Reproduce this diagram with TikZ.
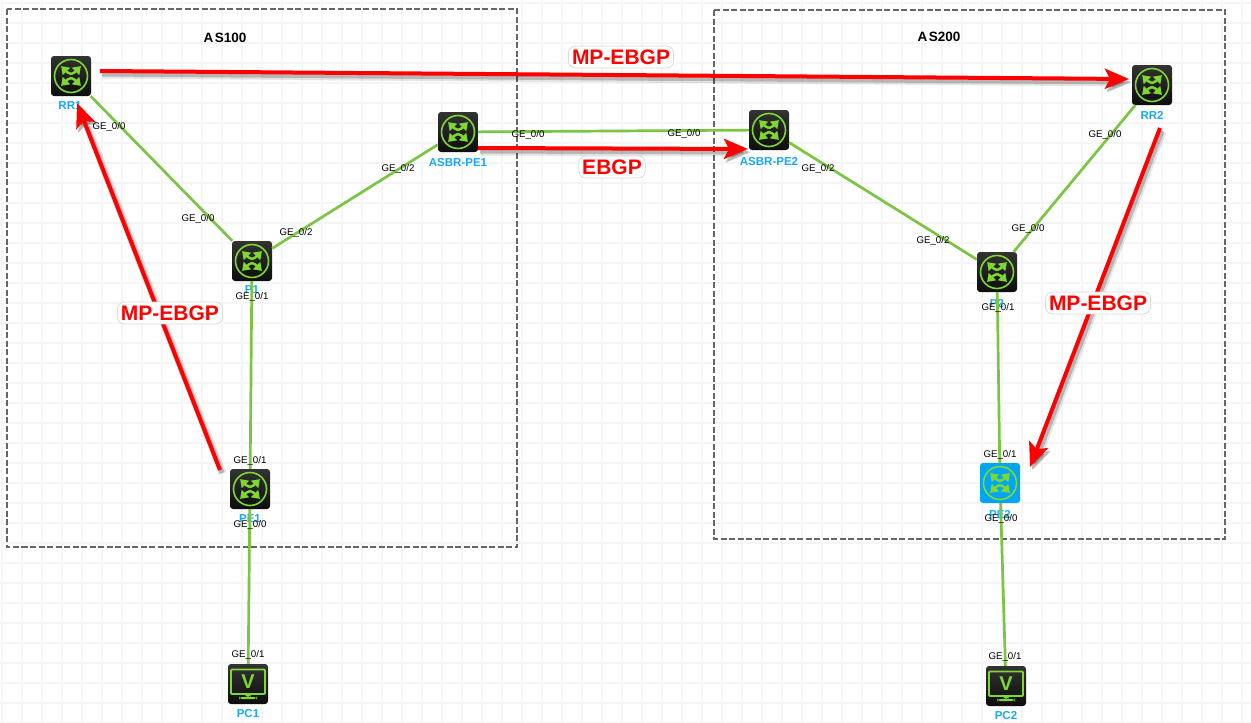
\documentclass[tikz,border=0pt]{standalone}
\usepackage{fontspec}
\setmainfont{Liberation Sans}
\usetikzlibrary{arrows.meta}
\definecolor{linkgreen}{HTML}{7CC443}
\definecolor{icongreen}{HTML}{7FD832}
\definecolor{namecyan}{HTML}{1AA7F5}
\definecolor{peblue}{HTML}{00A6F4}
\tikzset{
  devicebox/.style={minimum size=40pt,inner sep=0pt,rounded corners=3pt,top color=black!80,bottom color=black!95},
  routericon/.style={devicebox,path picture={
    \draw[icongreen,line width=1.6pt] (path picture bounding box.center) circle (16.5pt);
    \foreach \a/\s in {45/90,135/90,225/270,315/270}{
      \draw[icongreen,line width=2.5pt,-{Triangle[length=7.5pt,width=10pt]}]
        ([shift={(\s:2pt)}]path picture bounding box.center) .. controls ([shift={(\a:4pt)}]path picture bounding box.center) and ([shift={(\a:6pt)}]path picture bounding box.center) .. ([shift={(\a:14pt)}]path picture bounding box.center);
    }}},
  routerblue/.style={routericon,top color=peblue,bottom color=peblue},
  pcicon/.style={devicebox,path picture={
    \draw[icongreen,line width=1.8pt,rounded corners=1pt] ([shift={(-17pt,14.5pt)}]path picture bounding box.center) rectangle ([shift={(17pt,-10pt)}]path picture bounding box.center);
    \fill[icongreen] ([shift={(-2.5pt,-10pt)}]path picture bounding box.center) rectangle ([shift={(2.5pt,-13pt)}]path picture bounding box.center);
    \fill[icongreen] ([shift={(-9pt,-13pt)}]path picture bounding box.center) rectangle ([shift={(9pt,-15pt)}]path picture bounding box.center);
    \node[icongreen,font=\bfseries\fontsize{20}{20}\selectfont,inner sep=0pt] at ([yshift=2.5pt]path picture bounding box.center) {V};
    }},
  devname/.style={text=namecyan,font=\bfseries\fontsize{11.5}{12}\selectfont,inner sep=0pt,yshift=-1pt},
  portname/.style={font=\fontsize{9.7}{10}\selectfont,inner sep=0pt,yshift=-1.5pt},
  asbox/.style={draw=black!60,line width=1.4pt,dash pattern=on 6pt off 2.5pt},
  astitle/.style={font=\bfseries\fontsize{13.5}{14}\selectfont,inner sep=0pt,yshift=-1pt},
  link/.style={draw=linkgreen,line width=2.7pt},
  bgparrow/.style={red,line width=4pt,-{Stealth[length=24pt,width=20pt,inset=5pt]},
    preaction={draw=black,opacity=.1,line width=8pt,transform canvas={shift={(2.5pt,-3.5pt)}}},
    preaction={draw=black,opacity=.2,line width=5pt,transform canvas={shift={(2pt,-3pt)}}}},
  bgpname/.style={text=red,fill=white,draw=black!14,line width=.8pt,rounded corners=7pt,inner xsep=3.5pt,inner ysep=3.5pt,font=\bfseries\fontsize{21}{22}\selectfont},
}
\begin{document}
\begin{tikzpicture}[x=1pt,y=-1pt]
\useasboundingbox (0,0) rectangle (1251,723);
\foreach \x in {2,22,...,1250} \draw[black!4,line width=1.2pt] (\x,0) -- (\x,723);
\foreach \y in {3,23,...,723} \draw[black!4,line width=1.2pt] (0,\y) -- (1251,\y);
\draw[asbox] (7,9) rectangle (517,547);
\draw[asbox] (714,10) rectangle (1225,539);
\node[astitle] (as100) at (225,37) {A\kern1.5pt S100};
\node[astitle] (as200) at (939,36) {A\kern1.5pt S200};
% devices
\node[routericon] (rr1) at (71,76) {};
\node[routericon] (rr2) at (1152,85) {};
\node[routericon] (asbr1) at (458,132) {};
\node[routericon] (asbr2) at (769,130) {};
\node[routericon] (p1) at (252,261) {};
\node[routericon] (p2) at (997,272) {};
\node[routericon] (pe1) at (250,489) {};
\node[routerblue] (pe2) at (1000,483) {};
\node[pcicon] (pc1) at (248,684) {};
\node[pcicon] (pc2) at (1006,686) {};
\node[devname] (rr1name) at (70,105) {RR1};
\node[devname] (rr2name) at (1152,114) {RR2};
\node[devname] (asbr1name) at (458,162) {ASBR-PE1};
\node[devname] (asbr2name) at (769,161) {ASBR-PE2};
\node[devname] (p1name) at (252,289) {P1};
\node[devname] (p2name) at (997,302) {P2};
\node[devname] (pe1name) at (250,518) {PE1};
\node[devname] (pe2name) at (1000,513) {PE2};
\node[devname] (pc1name) at (248,713) {PC1};
\node[devname] (pc2name) at (1006,715) {PC2};
% links
\draw[link] (rr1) -- (p1);
\draw[link] (p1) -- (asbr1);
\draw[link] (p1) -- (pe1);
\draw[link] (pe1) -- (pc1);
\draw[link] (asbr1) -- (asbr2);
\draw[link] (asbr2) -- (p2);
\draw[link] (p2) -- (rr2);
\draw[link] (p2) -- (pe2);
\draw[link] (pe2) -- (pc2);
% port labels
\node[portname] (rr1port) at (109,125) {GE\_0/0};
\node[portname] (p1a) at (198,217) {GE\_0/0};
\node[portname] (p1b) at (296,231) {GE\_0/2};
\node[portname] (p1c) at (252,295) {GE\_0/1};
\node[portname] (asbr1a) at (398,167) {GE\_0/2};
\node[portname] (asbr1b) at (528,133) {GE\_0/0};
\node[portname] (asbr2a) at (684,132) {GE\_0/0};
\node[portname] (asbr2b) at (818,167) {GE\_0/2};
\node[portname] (p2a) at (933,239) {GE\_0/2};
\node[portname] (p2b) at (1028,227) {GE\_0/0};
\node[portname] (p2c) at (998,306) {GE\_0/1};
\node[portname] (rr2port) at (1105,133) {GE\_0/0};
\node[portname] (pe1a) at (250,459) {GE\_0/1};
\node[portname] (pe1b) at (250,523) {GE\_0/0};
\node[portname] (pe2a) at (1000,453) {GE\_0/1};
\node[portname] (pe2b) at (1001,517) {GE\_0/0};
\node[portname] (pc1port) at (248,653) {GE\_0/1};
\node[portname] (pc2port) at (1005,655) {GE\_0/1};
% bgp sessions
\coordinate (rr1out) at (100,71);
\coordinate (rr2in) at (1129,79);
\coordinate (pe1out) at (220,470);
\coordinate (rr1in) at (77,103);
\coordinate (asbr1out) at (478,148);
\coordinate (asbr2in) at (748,149);
\coordinate (rr2out) at (1160,128);
\coordinate (pe2in) at (1030,467);
\draw[bgparrow] (rr1out) -- (rr2in);
\draw[bgparrow] (pe1out) -- (rr1in);
\draw[bgparrow] (asbr1out) -- (asbr2in);
\draw[bgparrow] (rr2out) -- (pe2in);
\node[bgpname] (mptop) at (621,57) {MP-EBGP};
\node[bgpname] (mpleft) at (170,313) {MP-EBGP};
\node[bgpname] (mpright) at (1098,303) {MP-EBGP};
\node[bgpname] (ebgp) at (612,167) {EBGP};
\end{tikzpicture}
\end{document}
